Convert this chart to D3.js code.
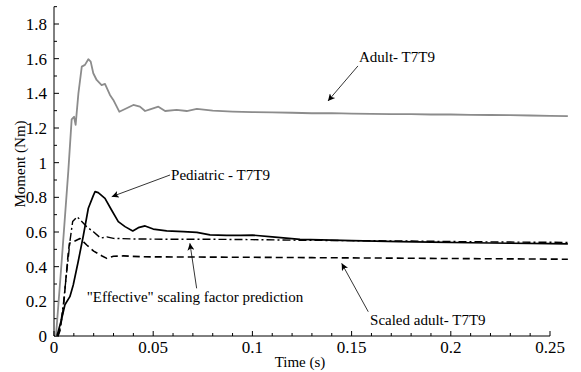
<!DOCTYPE html>
<html>
<head>
<meta charset="utf-8">
<script src="https://cdn.jsdelivr.net/npm/d3@7"></script>
</head>
<body style="margin:0; background:#fff">
<svg id="chart" width="581" height="372" style="display:block"></svg>
<script>
// Moment response of the T7T9 segment: [time (s), moment (Nm)]
const adult = [
  [0.001, 0.0], [0.004, 0.45], [0.0072, 0.95], [0.0089, 1.25], [0.0101, 1.265],
  [0.0109, 1.218], [0.0123, 1.40], [0.014, 1.554], [0.0156, 1.564], [0.0173, 1.597],
  [0.0185, 1.583], [0.0198, 1.516], [0.0215, 1.477], [0.024, 1.448], [0.0257, 1.454],
  [0.0282, 1.391], [0.0299, 1.362], [0.0329, 1.294], [0.0366, 1.314], [0.040, 1.333],
  [0.0433, 1.323], [0.0459, 1.298], [0.0484, 1.308], [0.0526, 1.323], [0.056, 1.298],
  [0.0618, 1.304], [0.0669, 1.298], [0.072, 1.31], [0.08, 1.30], [0.09, 1.295],
  [0.10, 1.292], [0.11, 1.29], [0.12, 1.288], [0.13, 1.285], [0.14, 1.286],
  [0.15, 1.283], [0.16, 1.282], [0.17, 1.28], [0.18, 1.28], [0.19, 1.278],
  [0.20, 1.278], [0.21, 1.276], [0.22, 1.275], [0.23, 1.274], [0.24, 1.272],
  [0.25, 1.27], [0.259, 1.268]
];

const pediatric = [
  [0.0015, 0.0], [0.0039, 0.10], [0.0055, 0.18], [0.008, 0.227], [0.0097, 0.294],
  [0.0122, 0.43], [0.0148, 0.58], [0.0173, 0.737], [0.0198, 0.81], [0.0207, 0.833],
  [0.0223, 0.827], [0.0257, 0.794], [0.029, 0.727], [0.0324, 0.66], [0.0358, 0.631],
  [0.0397, 0.606], [0.0425, 0.625], [0.0459, 0.635], [0.05, 0.617], [0.0568, 0.606],
  [0.0652, 0.602], [0.072, 0.598], [0.0786, 0.583], [0.087, 0.581], [0.094, 0.581],
  [0.10, 0.582], [0.11, 0.572], [0.124, 0.558], [0.14, 0.553], [0.15, 0.55],
  [0.174, 0.544], [0.19, 0.542], [0.21, 0.538], [0.23, 0.535], [0.25, 0.533],
  [0.259, 0.532]
];

const effective = [
  [0.002, 0.0], [0.003, 0.044], [0.0047, 0.18], [0.0064, 0.37], [0.0072, 0.45],
  [0.008, 0.544], [0.0094, 0.66], [0.0117, 0.688], [0.014, 0.66], [0.0165, 0.63],
  [0.020, 0.60], [0.0235, 0.565], [0.0266, 0.572], [0.03, 0.563], [0.04, 0.56],
  [0.06, 0.558], [0.08, 0.558], [0.10, 0.556], [0.12, 0.553], [0.15, 0.55],
  [0.18, 0.548], [0.20, 0.545], [0.23, 0.542], [0.259, 0.54]
];

const scaledAdult = [
  [0.002, 0.0], [0.003, 0.03], [0.0047, 0.16], [0.006, 0.33], [0.0072, 0.48],
  [0.0078, 0.535], [0.010, 0.545], [0.0131, 0.562], [0.0165, 0.525], [0.020, 0.49],
  [0.024, 0.463], [0.0266, 0.448], [0.03, 0.46], [0.035, 0.462], [0.045, 0.457],
  [0.06, 0.456], [0.08, 0.455], [0.10, 0.454], [0.13, 0.452], [0.16, 0.45],
  [0.20, 0.447], [0.23, 0.445], [0.259, 0.443]
];

const xTickLabels = ["0", "0.05", "0.1", "0.15", "0.2", "0.25"];
const yTickLabels = ["0", "0.2", "0.4", "0.6", "0.8", "1", "1.2", "1.4", "1.6", "1.8"];

// Callout labels: text, text anchor point, arrow start and arrow tip (data units)
const callouts = [
  { text: "Adult- T7T9", at: [0.1537, 1.61], from: [0.1532, 1.558], to: [0.1381, 1.356] },
  { text: "Pediatric - T7T9", at: [0.059, 0.929], from: [0.0585, 0.929], to: [0.0291, 0.804] },
  { text: "\"Effective\" scaling factor prediction", at: [0.0165, 0.227], from: [0.0719, 0.275], to: [0.0685, 0.535] },
  { text: "Scaled adult- T7T9", at: [0.1593, 0.092], from: [0.1584, 0.14], to: [0.145, 0.419] }
];

const FONT = '"Liberation Serif"';

const svg = d3.select("#chart");
const x = d3.scaleLinear().domain([0, 0.25]).range([54, 550]);
const y = d3.scaleLinear().domain([0, 1.9]).range([336, 6.67]);

// Axes: inward ticks, major with labels, minor unlabelled
const axisG = svg.append("g").attr("stroke", "#000").attr("fill", "none");
axisG.append("line").attr("x1", x(0)).attr("x2", x(0)).attr("y1", y(0)).attr("y2", y(1.9)).attr("stroke-width", 1);
axisG.append("line").attr("x1", x(0)).attr("x2", x(0.25)).attr("y1", y(0)).attr("y2", y(0)).attr("stroke-width", 1);

const xMinor = d3.range(0, 26).map(i => i * 0.01);
const yMinor = d3.range(0, 20).map(i => i * 0.1);

axisG.selectAll(".xt").data(xMinor).join("line")
  .attr("x1", d => x(d)).attr("x2", d => x(d))
  .attr("y1", y(0)).attr("y2", (d, i) => y(0) - (i % 5 === 0 ? 5 : 3))
  .attr("stroke-width", 1);
axisG.selectAll(".yt").data(yMinor).join("line")
  .attr("y1", d => y(d)).attr("y2", d => y(d))
  .attr("x1", x(0)).attr("x2", (d, i) => x(0) + (i % 2 === 0 ? 5 : 3))
  .attr("stroke-width", 1);

const labelG = svg.append("g").attr("fill", "#000");
labelG.selectAll(".xl").data(xTickLabels).join("text")
  .attr("x", d => x(+d)).attr("y", 347).attr("dy", "0.35em")
  .attr("text-anchor", "middle")
  .style("font-family", FONT).style("font-size", "17px")
  .text(d => d);
labelG.selectAll(".yl").data(yTickLabels).join("text")
  .attr("x", 47).attr("y", d => y(+d)).attr("dy", "0.35em")
  .attr("text-anchor", "end")
  .style("font-family", FONT).style("font-size", "17px")
  .text(d => d);

labelG.append("text").attr("x", 300).attr("y", 362).attr("dy", "0.35em")
  .attr("text-anchor", "middle")
  .style("font-family", FONT).style("font-size", "15px")
  .text("Time (s)");
labelG.append("text").attr("transform", "translate(20,164) rotate(-90)")
  .attr("dy", "0.35em").attr("text-anchor", "middle")
  .style("font-family", FONT).style("font-size", "15px")
  .text("Moment (Nm)");

// Curves
const line = d3.line().x(d => x(d[0])).y(d => y(d[1]));
const series = [
  { data: adult, stroke: "#8c8c8c", width: 1.8, dash: null },
  { data: scaledAdult, stroke: "#000", width: 1.6, dash: "7,4" },
  { data: effective, stroke: "#000", width: 1.4, dash: "8,3,2,3" },
  { data: pediatric, stroke: "#000", width: 1.7, dash: null }
];
svg.append("g").selectAll("path").data(series).join("path")
  .attr("d", d => line(d.data))
  .attr("fill", "none")
  .attr("stroke", d => d.stroke)
  .attr("stroke-width", d => d.width)
  .attr("stroke-dasharray", d => d.dash)
  .attr("stroke-linejoin", "round");

// Callouts with arrows
svg.append("defs").append("marker")
  .attr("id", "arrowhead").attr("viewBox", "0 0 10 10")
  .attr("refX", 10).attr("refY", 5)
  .attr("markerWidth", 10).attr("markerHeight", 7)
  .attr("markerUnits", "userSpaceOnUse")
  .attr("orient", "auto")
  .append("path").attr("d", "M0,0 L10,5 L0,10 L2.5,5 Z").attr("fill", "#000");

const cg = svg.append("g");
cg.selectAll("line").data(callouts).join("line")
  .attr("x1", d => x(d.from[0])).attr("y1", d => y(d.from[1]))
  .attr("x2", d => x(d.to[0])).attr("y2", d => y(d.to[1]))
  .attr("stroke", "#000").attr("stroke-width", 0.8)
  .attr("marker-end", "url(#arrowhead)");
cg.selectAll("text").data(callouts).join("text")
  .attr("x", d => x(d.at[0])).attr("y", d => y(d.at[1])).attr("dy", "0.35em")
  .style("font-family", FONT).style("font-size", "15px").attr("fill", "#000")
  .text(d => d.text);
</script>
</body>
</html>
